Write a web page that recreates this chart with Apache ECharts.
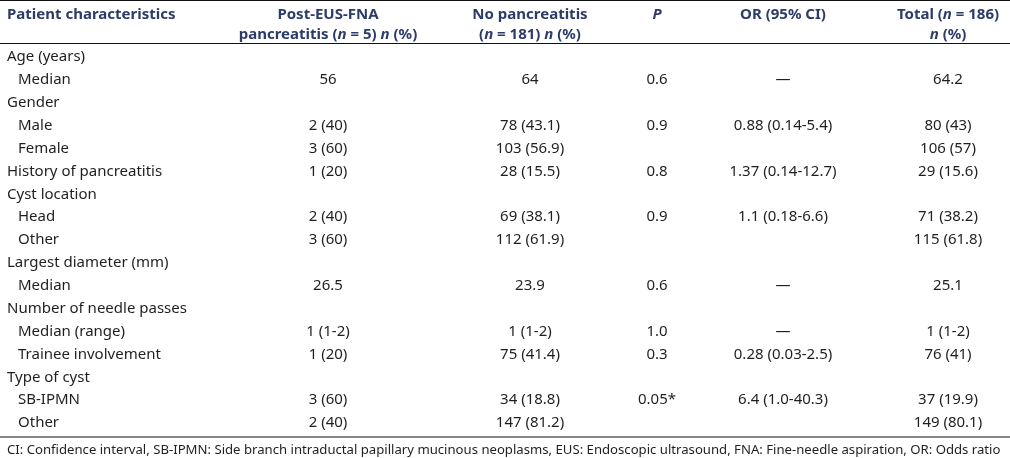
<!DOCTYPE html>
<html>
<head>
<meta charset="utf-8">
<script src="https://cdn.jsdelivr.net/npm/echarts@6/dist/echarts.min.js"></script>
<style>
  html, body { margin: 0; padding: 0; background: #ffffff; }
  #chart { width: 1010px; height: 458px; }
</style>
</head>
<body>
<div id="chart"></div>
<script>
// ---------------- DATA ----------------
const HEADERS = [
  'Patient characteristics',
  'Post-EUS-FNA\npancreatitis ({i|n} = 5) {i|n} (%)',
  'No pancreatitis\n({i|n} = 181) {i|n} (%)',
  '{i|P}',
  'OR (95% CI)',
  'Total ({i|n} = 186)\n{i|n} (%)'
];
const ROW_LABELS = [
  'Age (years)', 'Median', 'Gender', 'Male', 'Female', 'History of pancreatitis',
  'Cyst location', 'Head', 'Other', 'Largest diameter (mm)', 'Median',
  'Number of needle passes', 'Median (range)', 'Trainee involvement',
  'Type of cyst', 'SB-IPMN', 'Other'
];
const IS_SUBROW = [false, true, false, true, true, false, false, true, true, false, true, false, true, true, false, true, true];
const POST_FNA = ['', '56', '', '2 (40)', '3 (60)', '1 (20)', '', '2 (40)', '3 (60)', '', '26.5', '', '1 (1-2)', '1 (20)', '', '3 (60)', '2 (40)'];
const NO_PANC = ['', '64', '', '78 (43.1)', '103 (56.9)', '28 (15.5)', '', '69 (38.1)', '112 (61.9)', '', '23.9', '', '1 (1-2)', '75 (41.4)', '', '34 (18.8)', '147 (81.2)'];
const P_VALUES = ['', '0.6', '', '0.9', '', '0.8', '', '0.9', '', '', '0.6', '', '1.0', '0.3', '', '0.05*', ''];
const OR_CI = ['', '\u2014', '', '0.88 (0.14-5.4)', '', '1.37 (0.14-12.7)', '', '1.1 (0.18-6.6)', '', '', '\u2014', '', '\u2014', '0.28 (0.03-2.5)', '', '6.4 (1.0-40.3)', ''];
const TOTAL = ['', '64.2', '', '80 (43)', '106 (57)', '29 (15.6)', '', '71 (38.2)', '115 (61.8)', '', '25.1', '', '1 (1-2)', '76 (41)', '', '37 (19.9)', '149 (80.1)'];
const FOOTNOTE = 'CI: Confidence interval, SB-IPMN: Side branch intraductal papillary mucinous neoplasms, EUS: Endoscopic ultrasound, FNA: Fine-needle aspiration, OR: Odds ratio';

// ---------------- LAYOUT / STYLE ----------------
const FONT = '"Noto Sans", "Open Sans", sans-serif';
const BODY_COLOR = '#1f1f1f';
const HEAD_COLOR = '#2c3b68';
const COL_X = [7, 328, 530, 657, 783, 948];   // anchor of each column on the 0..1010 x scale
const SUB_INDENT = 11;
const W = 1010;

const chart = echarts.init(document.getElementById('chart'), null, { renderer: 'canvas' });

const COLUMNS = [POST_FNA, NO_PANC, P_VALUES, OR_CI, TOTAL];

function renderRow(params, api) {
  const idx = api.value(0);
  const children = [];
  const y = api.coord([0, idx])[1];
  const lx = api.coord([COL_X[0] + (IS_SUBROW[idx] ? SUB_INDENT : 0), idx])[0];
  children.push({
    type: 'text',
    x: lx, y: y,
    style: { text: ROW_LABELS[idx], font: '15px ' + FONT, fill: BODY_COLOR, textAlign: 'left', textVerticalAlign: 'middle' }
  });
  COLUMNS.forEach((col, c) => {
    const t = col[idx];
    if (!t) return;
    const cx = api.coord([COL_X[c + 1], idx])[0];
    children.push({
      type: 'text',
      x: cx, y: y,
      style: { text: t, font: '15px ' + FONT, fill: BODY_COLOR, textAlign: 'center', textVerticalAlign: 'middle' }
    });
  });
  return { type: 'group', children: children };
}

const headerGraphics = HEADERS.map((h, c) => ({
  type: 'text',
  x: COL_X[c],
  y: 5,
  style: {
    text: h,
    font: 'bold 15px ' + FONT,
    fill: HEAD_COLOR,
    textAlign: c === 0 ? 'left' : 'center',
    textVerticalAlign: 'top',
    lineHeight: 20,
    rich: { i: { fontStyle: 'italic', fontWeight: 'bold', fontSize: 15, fontFamily: FONT, fill: HEAD_COLOR, color: HEAD_COLOR, lineHeight: 20 } }
  }
}));

const option = {
  backgroundColor: '#ffffff',
  animation: false,
  grid: { left: 0, right: 0, top: 45.5, height: 389 },
  xAxis: { type: 'value', min: 0, max: W, show: false },
  yAxis: { type: 'category', data: ROW_LABELS.map((_, i) => i), inverse: true, show: false },
  series: [{
    type: 'custom',
    renderItem: renderRow,
    data: ROW_LABELS.map((_, i) => [i]),
    encode: { y: 0 },
    silent: true
  }],
  graphic: [
    { type: 'line', shape: { x1: 0, y1: 0.5, x2: W, y2: 0.5 }, style: { stroke: '#111', lineWidth: 1.2 } },
    { type: 'line', shape: { x1: 0, y1: 43.5, x2: W, y2: 43.5 }, style: { stroke: '#111', lineWidth: 1.2 } },
    { type: 'line', shape: { x1: 0, y1: 437, x2: W, y2: 437 }, style: { stroke: '#111', lineWidth: 1.2 } },
    ...headerGraphics,
    { type: 'text', x: 7, y: 450, style: { text: FOOTNOTE, font: '13.15px ' + FONT, fill: BODY_COLOR, textAlign: 'left', textVerticalAlign: 'middle' } }
  ]
};
chart.setOption(option);
</script>
</body>
</html>
